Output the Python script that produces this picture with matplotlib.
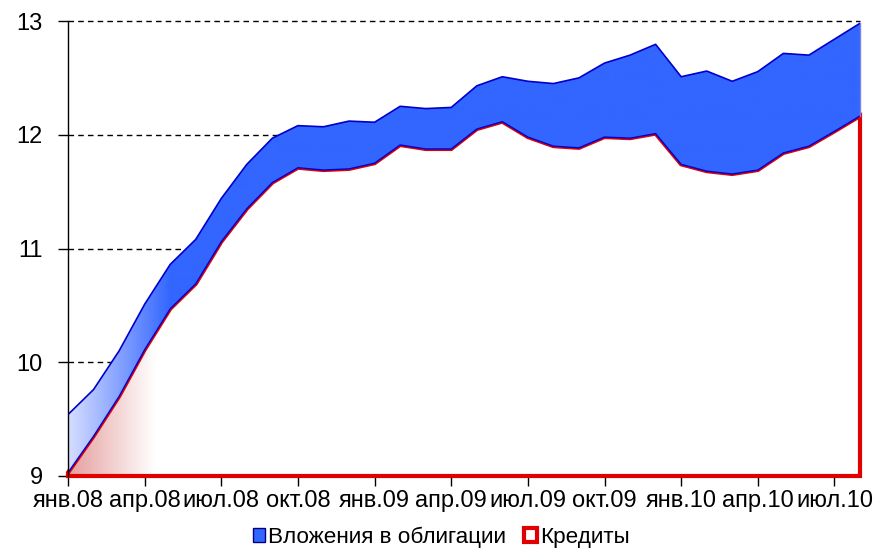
import numpy as np
import matplotlib
matplotlib.use("Agg")
import matplotlib.pyplot as plt
from matplotlib.patches import Patch

plt.rcParams['font.family'] = ['Liberation Sans', 'DejaVu Sans']

# ---- data ----
credits = [9.03, 9.35, 9.70, 10.11, 10.47, 10.69, 11.06, 11.35, 11.58, 11.71,
           11.69, 11.70, 11.75, 11.91, 11.875, 11.875, 12.05, 12.115, 11.98, 11.90,
           11.885, 11.98, 11.97, 12.01, 11.74, 11.68, 11.655, 11.69, 11.84, 11.90,
           12.03, 12.165]
bonds = [0.51, 0.41, 0.40, 0.40, 0.39, 0.39, 0.38, 0.39, 0.39, 0.37,
         0.38, 0.42, 0.36, 0.34, 0.355, 0.365, 0.38, 0.395, 0.49, 0.55,
         0.615, 0.65, 0.73, 0.785, 0.77, 0.88, 0.815, 0.865, 0.875, 0.80,
         0.81, 0.815]
tick_labels = ["янв.08", "апр.08", "июл.08", "окт.08", "янв.09", "апр.09",
               "июл.09", "окт.09", "янв.10", "апр.10", "июл.10"]
series_names = ["Вложения в облигации", "Кредиты"]

x = np.arange(len(credits))
cr = np.array(credits)
top = cr + np.array(bonds)
ymin, ymax = 9, 13

fig = plt.figure(figsize=(8.77, 5.51), dpi=100)
ax = fig.add_axes([68/877, 75/551, (860-68)/877, (476-21)/551])
ax.set_xlim(0, x[-1])
ax.set_ylim(ymin, ymax)

# grid
for v in [10, 11, 12, 13]:
    ax.axhline(v, color='black', lw=1.0, ls=(0, (4, 3)), zorder=0.5, clip_on=False)

N = 800
xs = np.linspace(0, x[-1], N)

# credits area (white with red gradient at left)
poly_c = ax.fill_between(x, ymin, cr, facecolor='none', edgecolor='none', zorder=1)
t = np.clip(xs / 3.4, 0, 1)[None, :, None]
c0 = np.array([0.90, 0.62, 0.62]); c1 = np.array([1.0, 1.0, 1.0])
img = (c0 * (1 - t) + c1 * t)
im = ax.imshow(img, extent=[0, x[-1], ymin, ymax], aspect='auto', origin='lower',
               zorder=1, interpolation='bilinear')
im.set_clip_path(poly_c.get_paths()[0], transform=ax.transData)

# red outline of credits
ox = np.concatenate([[0], x, [x[-1], 0]])
oy = np.concatenate([[ymin], cr, [ymin, ymin]])
ax.plot(ox, oy, color='#e00000', lw=3.0, zorder=2, clip_on=False, solid_joinstyle='miter')

# bonds area (blue gradient at left)
poly_b = ax.fill_between(x, cr, top, facecolor='none', edgecolor='none', zorder=3)
t2 = np.clip(xs / 4.0, 0, 1)[None, :, None]
b0 = np.array([0.84, 0.87, 1.0]); b1 = np.array([0.2, 0.4, 1.0])
img2 = (b0 * (1 - t2) + b1 * t2)
im2 = ax.imshow(img2, extent=[0, x[-1], ymin, ymax], aspect='auto', origin='lower',
                zorder=3, interpolation='bilinear')
im2.set_clip_path(poly_b.get_paths()[0], transform=ax.transData)
ax.plot(x, top, color='#0000cc', lw=1.2, zorder=4)
ax.plot(x, cr, color='#0000cc', lw=1.0, zorder=4)
ax.plot([x[-1], x[-1]], [cr[-1], top[-1]], color='#8080e0', lw=1.0, zorder=4, clip_on=False)

# axes styling
for s in ['top', 'right']:
    ax.spines[s].set_visible(False)
ax.spines['left'].set_linewidth(1.0)
ax.spines['bottom'].set_linewidth(1.0)
ax.spines['left'].set_zorder(5)
ax.spines['bottom'].set_zorder(1.5)
ax.set_xticks(np.arange(0, len(credits), 3))
ax.set_xticklabels(tick_labels)
ax.set_yticks([9, 10, 11, 12, 13])
ax.tick_params(axis='both', direction='out', length=7, width=1, labelsize=17, colors='black')
ax.tick_params(axis='x', pad=3)
ax.tick_params(axis='y', pad=11)

handles = [Patch(facecolor='#3366ff', edgecolor='#000080', lw=1.0),
           Patch(facecolor='white', edgecolor='#e00000', lw=3.0)]
fig.legend(handles, series_names, loc='center', bbox_to_anchor=(0.503, 0.025),
           ncol=2, frameon=False, fontsize=16.2, handlelength=0.55, handleheight=0.55,
           handletextpad=0.15, columnspacing=0.8, borderpad=0.0, borderaxespad=0.0)

fig.savefig('out.png', dpi=100)
